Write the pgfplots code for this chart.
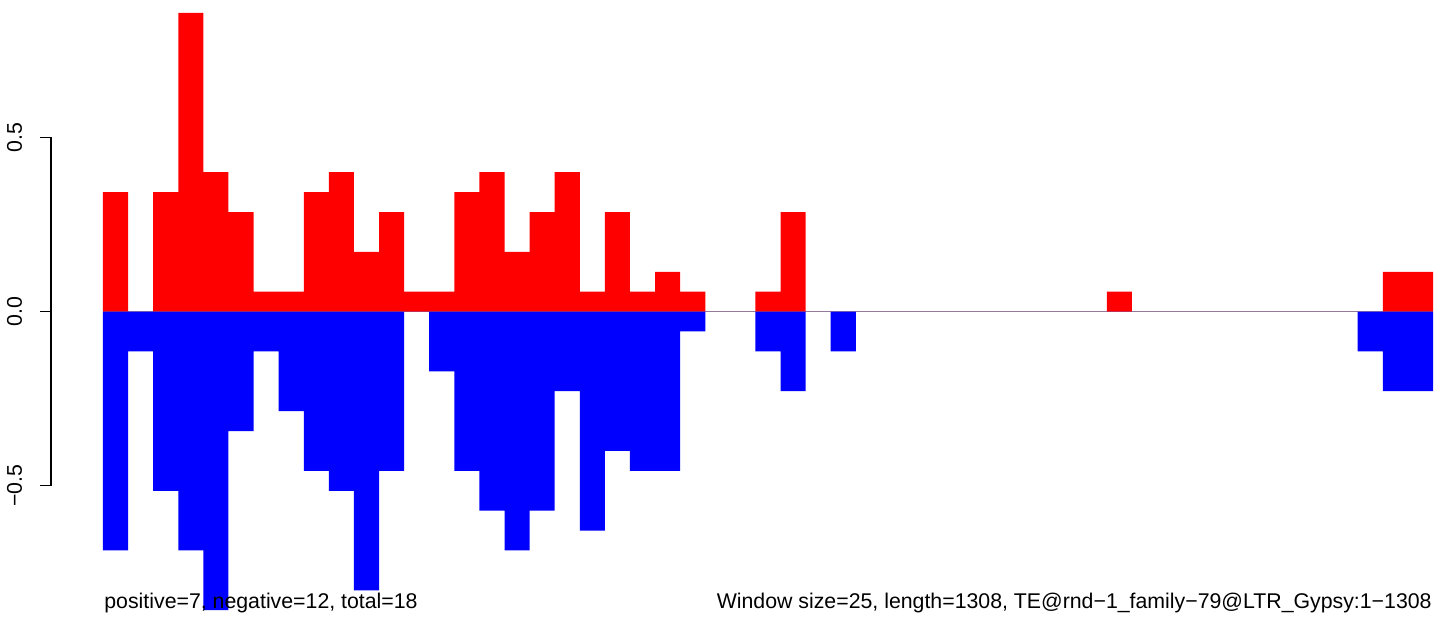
\documentclass[border=0pt]{standalone}
\usepackage{fontspec}
\setmainfont{Liberation Sans}
\usepackage{pgfplots}
\usepackage{pgfplotstable}
\pgfplotsset{compat=1.18}
% x = window centre, pos = red value, neg = blue value
\pgfplotstableread{
x pos neg
0.5 0.3429 -0.6857
1.5 0 -0.1143
2.5 0.3429 -0.5143
3.5 0.8571 -0.6857
4.5 0.4 -0.8571
5.5 0.2857 -0.3429
6.5 0.0571 -0.1143
7.5 0.0571 -0.2857
8.5 0.3429 -0.4571
9.5 0.4 -0.5143
10.5 0.1714 -0.8
11.5 0.2857 -0.4571
12.5 0.0571 0
13.5 0.0571 -0.1714
14.5 0.3429 -0.4571
15.5 0.4 -0.5714
16.5 0.1714 -0.6857
17.5 0.2857 -0.5714
18.5 0.4 -0.2286
19.5 0.0571 -0.6286
20.5 0.2857 -0.4
21.5 0.0571 -0.4571
22.5 0.1143 -0.4571
23.5 0.0571 -0.0571
24.5 0 0
25.5 0 0
26.5 0.0571 -0.1143
27.5 0.2857 -0.2286
28.5 0 0
29.5 0 -0.1143
30.5 0 0
31.5 0 0
32.5 0 0
33.5 0 0
34.5 0 0
35.5 0 0
36.5 0 0
37.5 0 0
38.5 0 0
39.5 0 0
40.5 0.0571 0
41.5 0 0
42.5 0 0
43.5 0 0
44.5 0 0
45.5 0 0
46.5 0 0
47.5 0 0
48.5 0 0
49.5 0 0
50.5 0 -0.1143
51.5 0.1143 -0.2286
52.5 0.1143 -0.2286
}\windows
\begin{document}
\begin{tikzpicture}
\useasboundingbox (0,0) rectangle (722pt,308.5pt);
\begin{axis}[
  at={(25.5pt,3.4pt)}, anchor=south west,
  scale only axis, width=691pt, height=298.6pt,
  xmin=-2.072, xmax=53, ymin=-0.8571, ymax=0.8571,
  axis x line=none, axis y line*=left,
  y axis line style={draw=none},
  xtick=\empty,
  ytick={-0.5,0,0.5},
  yticklabels={−0.5,0.0,0.5},
  tick align=outside, major tick length=5.5pt,
  ytick style={line width=0.6pt, black},
  yticklabel style={rotate=90, anchor=base, inner sep=0pt, font=\fontsize{10.65}{12}\selectfont},
  yticklabel shift=9pt,
  clip=false,
]
\addplot[sharp plot, color={rgb,1:red,0.63;green,0.63;blue,0.63}, line width=0.9pt] coordinates {(0,0) (53,0)};
\addplot[ybar, bar width=1, bar shift=0pt, fill={rgb,1:red,1;green,0;blue,0}, draw=none] table[x=x, y=pos] {\windows};
\addplot[ybar, bar width=1, bar shift=0pt, fill={rgb,1:red,0;green,0;blue,1}, draw=none] table[x=x, y=neg] {\windows};
\draw[line width=0.6pt, black] (axis cs:-2.072,-0.5) -- (axis cs:-2.072,0.5);
\end{axis}
\node[anchor=base west, inner sep=0pt, font=\fontsize{10.65}{12}\selectfont] at (52pt,4.5pt) {positive=7, negative=12, total=18};
\node[anchor=base east, inner sep=0pt, font=\fontsize{10.65}{12}\selectfont] at (716pt,4.5pt) {Window size=25, length=1308, TE@rnd−1\_family−79@LTR\_Gypsy:1−1308};
\end{tikzpicture}
\end{document}
